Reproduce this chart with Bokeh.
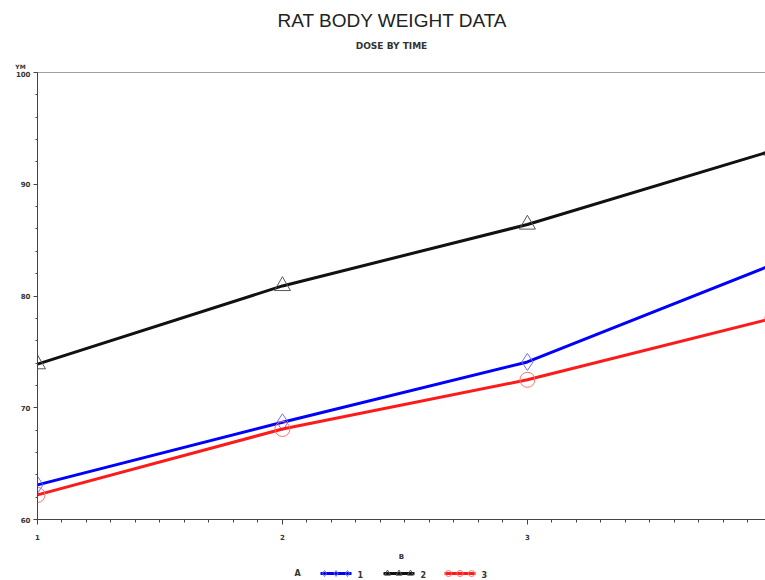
from bokeh.plotting import figure
from bokeh.layouts import column
from bokeh.models import Range1d, FixedTicker, Span
from bokeh.core.properties import value
from bokeh.embed import file_html
from bokeh.resources import INLINE

# ---- data ----
times = [1, 2, 3, 4]
dose_1 = [63.1, 68.7, 74.1, 82.8]
dose_2 = [73.9, 80.9, 86.4, 93.0]
dose_3 = [62.2, 68.1, 72.5, 78.0]
series_names = ["1", "2", "3"]
x_ticks = [1, 2, 3, 4]
y_ticks = [60, 70, 80, 90, 100]
title_text = "RAT BODY WEIGHT DATA"
subtitle_text = "DOSE BY TIME"
y_name = "YM"
x_name = "B"
group_name = "A"

W = 765
TXT = "#333333"
BOLD_FONT = value("DejaVu Sans")

line_colors = ["#0000ff", "#111111", "#ff1a1a"]
marker_colors = ["#6f6fff", "#555555", "#ff6f6f"]
markers = ["diamond", "triangle", "circle"]
marker_sizes = [17, 16, 15]


def blank(h, y_top):
    f = figure(width=W, height=h, output_backend="svg", toolbar_location=None,
               x_range=Range1d(0, W), y_range=Range1d(y_top, 0),
               x_axis_type=None, y_axis_type=None, min_border=0, frame_align=False)
    f.outline_line_color = None
    f.grid.visible = False
    return f


# ---- header strip (title, subtitle, y-name) ----
top = blank(70, 70)
top.text(x=[392], y=[20], text=[title_text], text_align="center", text_baseline="middle",
         text_font=value("Liberation Sans"), text_font_size="19px", text_color="#222222")
top.text(x=[391], y=[45], text=[subtitle_text], text_align="center", text_baseline="middle",
         text_font=BOLD_FONT, text_font_style="bold", text_font_size="9px", text_color=TXT)
top.text(x=[20], y=[66], text=[y_name], text_align="center", text_baseline="middle",
         text_font=BOLD_FONT, text_font_style="bold", text_font_size="6px", text_color=TXT)

# ---- main plot ----
p = figure(width=W, height=493, output_backend="svg", toolbar_location=None,
           x_range=Range1d(1, 3.972), y_range=Range1d(60, 100), frame_align=False,
           min_border_left=37, min_border_right=0, min_border_top=2, min_border_bottom=44)
p.outline_line_color = None
p.grid.visible = False

for ax in (p.xaxis[0], p.yaxis[0]):
    ax.axis_line_color = "#444444"
    ax.major_tick_line_color = "#444444"
    ax.minor_tick_line_color = "#444444"
    ax.major_tick_in = 0
    ax.minor_tick_in = 0
    ax.major_label_text_font = "DejaVu Sans"
    ax.major_label_text_font_style = "bold"
    ax.major_label_text_font_size = "7px"
    ax.major_label_text_color = TXT

p.xaxis.ticker = FixedTicker(ticks=x_ticks, minor_ticks=[1 + i / 10 for i in range(31)])
p.xaxis.major_tick_out = 5
p.xaxis.minor_tick_out = 3
p.xaxis.major_label_standoff = 9
p.xaxis.axis_label = x_name
p.xaxis.axis_label_text_font = "DejaVu Sans"
p.xaxis.axis_label_text_font_style = "bold"
p.xaxis.axis_label_text_font_size = "7px"
p.xaxis.axis_label_text_color = TXT
p.xaxis.axis_label_standoff = 10

p.yaxis.ticker = FixedTicker(ticks=y_ticks, minor_ticks=list(range(60, 101, 2)))
p.yaxis.major_tick_out = 4
p.yaxis.minor_tick_out = 2
p.yaxis.major_label_standoff = 3

p.add_layout(Span(location=100, dimension="width", line_color="#444444", line_width=1))

for ys, lc, mc, mk, ms in zip([dose_1, dose_2, dose_3], line_colors, marker_colors,
                              markers, marker_sizes):
    p.line(times, ys, line_color=lc, line_width=3)
    p.scatter(times, ys, marker=mk, size=ms, fill_color=None, line_color=mc, line_width=1)

# ---- legend strip ----
leg = blank(17, 17)
ly = 10
leg.text(x=[297], y=[ly], text=[group_name], text_align="center", text_baseline="middle",
         text_font=BOLD_FONT, text_font_style="bold", text_font_size="8px", text_color=TXT)
sw_start = [320, 383, 444]
sw_len = 31
for i in range(3):
    x0 = sw_start[i]
    leg.line([x0, x0 + sw_len], [ly, ly], line_color=line_colors[i], line_width=3)
    leg.scatter([x0 + 4, x0 + sw_len / 2, x0 + sw_len - 4], [ly] * 3, marker=markers[i],
                size=6, fill_color=None, line_color=marker_colors[i], line_width=1)
    leg.text(x=[x0 + sw_len + 6], y=[ly + 1], text=[series_names[i]], text_align="left",
             text_baseline="middle", text_font=BOLD_FONT, text_font_style="bold",
             text_font_size="8px", text_color=TXT)

layout = column(top, p, leg, spacing=0)
open("out.html", "w").write(file_html(layout, INLINE))
